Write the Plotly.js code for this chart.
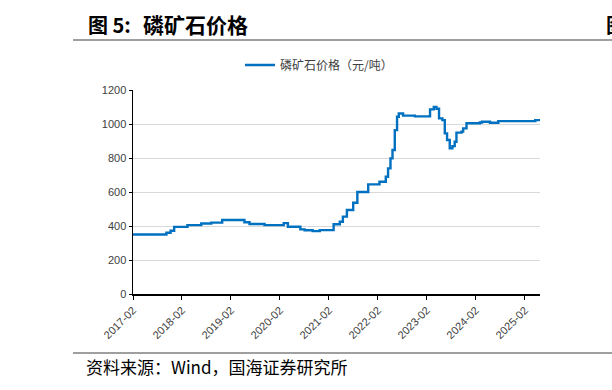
<!DOCTYPE html>
<html><head><meta charset="utf-8">
<script src="https://cdn.plot.ly/plotly-3.0.1.min.js"></script>
<style>html,body{margin:0;padding:0;background:#fff;}</style>
</head><body>
<div id="chart" style="width:612px;height:390px;"></div>
<script>
const seriesName = "磷矿石价格（元/吨）";
const dates = ["2017-02-01","2017-10-08","2017-11-08","2017-12-05","2018-03-14","2018-06-25","2018-09-08","2018-11-28","2019-05-13","2019-06-20","2019-10-10","2020-03-01","2020-04-01","2020-07-03","2020-08-04","2020-10-03","2020-11-25","2021-03-08","2021-04-23","2021-05-16","2021-06-15","2021-08-01","2021-09-01","2021-11-21","2022-02-13","2022-04-01","2022-04-18","2022-05-06","2022-05-21","2022-06-07","2022-06-24","2022-07-07","2022-08-08","2022-11-04","2023-02-25","2023-03-25","2023-04-14","2023-05-03","2023-05-28","2023-06-15","2023-07-02","2023-07-22","2023-08-11","2023-08-28","2023-09-10","2023-10-18","2023-10-30","2023-11-24","2024-03-03","2024-03-18","2024-05-17","2024-07-18","2025-04-20","2025-05-25"];
const prices = [350,360,372,395,405,415,420,435,422,412,405,417,396,380,375,370,376,410,425,455,494,537,600,645,660,690,739,798,847,964,1043,1062,1049,1045,1086,1101,1090,1033,1023,945,906,857,870,896,949,955,974,1004,1009,1013,1007,1017,1023,1023];
const tickDates = ["2017-02-01","2018-02-01","2019-02-01","2020-02-01","2021-02-01","2022-02-01","2023-02-01","2024-02-01","2025-02-01"];
const tickLabels = ["2017-02","2018-02","2019-02","2020-02","2021-02","2022-02","2023-02","2024-02","2025-02"];
const yTicks = [0,200,400,600,800,1000,1200];

const L = 133, R = 540, T = 90, B = 294;
const px = x => (x - L) / (R - L);
const py = y => (B - y) / (B - T);
const cjk = '"Noto Sans CJK SC", "Noto Sans", sans-serif';
const lat = '"Liberation Sans", Arial, sans-serif';

const trace = {
  x: dates, y: prices, type: 'scatter', mode: 'lines', name: seriesName,
  line: {color: '#0070C0', width: 2.4, shape: 'hv'}
};

const layout = {
  width: 612, height: 390,
  margin: {l: L, r: 612 - R, t: T, b: 390 - B},
  paper_bgcolor: '#fff', plot_bgcolor: '#fff',
  showlegend: true,
  legend: {orientation: 'h', x: px(240), xanchor: 'left', y: py(65), yanchor: 'middle', itemwidth: 30,
    font: {family: cjk, size: 12, color: '#404040'}, bgcolor: 'rgba(0,0,0,0)'},
  xaxis: {
    type: 'date', range: ['2017-02-01', '2025-05-25'],
    tickmode: 'array', tickvals: tickDates, ticktext: tickLabels,
    tickangle: -45, ticks: 'outside', ticklen: 4, tickcolor: '#000', tickwidth: 1,
    showline: true, linecolor: '#000', linewidth: 1.5, showgrid: false, zeroline: false,
    tickfont: {family: lat, size: 11, color: '#404040'}
  },
  yaxis: {
    range: [0, 1200], tickmode: 'array', tickvals: yTicks,
    ticks: 'outside', ticklen: 3, tickcolor: '#000',
    showline: true, linecolor: '#000', linewidth: 1.5,
    showgrid: true, gridcolor: '#d9d9d9', gridwidth: 1, zeroline: false,
    tickfont: {family: lat, size: 11, color: '#404040'}
  },
  shapes: [
    {type: 'line', xref: 'paper', yref: 'paper', x0: px(73), x1: px(612), y0: py(40), y1: py(40), line: {color: '#7f7f7f', width: 1.5}},
    {type: 'line', xref: 'paper', yref: 'paper', x0: px(73), x1: px(612), y0: py(353), y1: py(353), line: {color: '#7f7f7f', width: 1.5}}
  ],
  annotations: [
    {xref: 'paper', yref: 'paper', x: px(86), y: py(24), xanchor: 'left', yanchor: 'middle', showarrow: false,
     text: '<b>图 5:</b>', font: {family: cjk, size: 20, color: '#000'}},
    {xref: 'paper', yref: 'paper', x: px(141), y: py(24), xanchor: 'left', yanchor: 'middle', showarrow: false,
     text: '<b>磷矿石价格</b>', font: {family: cjk, size: 21, color: '#000'}},
    {xref: 'paper', yref: 'paper', x: px(84), y: py(366), xanchor: 'left', yanchor: 'middle', showarrow: false,
     text: '资料来源：Wind，国海证券研究所', font: {family: cjk, size: 17, color: '#000'}},
    {xref: 'paper', yref: 'paper', x: px(604), y: py(24), xanchor: 'left', yanchor: 'middle', showarrow: false,
     text: '<b>图</b>', font: {family: cjk, size: 20, color: '#000'}}
  ]
};

Plotly.newPlot('chart', [trace], layout, {staticPlot: true, displayModeBar: false});
</script>
</body></html>
